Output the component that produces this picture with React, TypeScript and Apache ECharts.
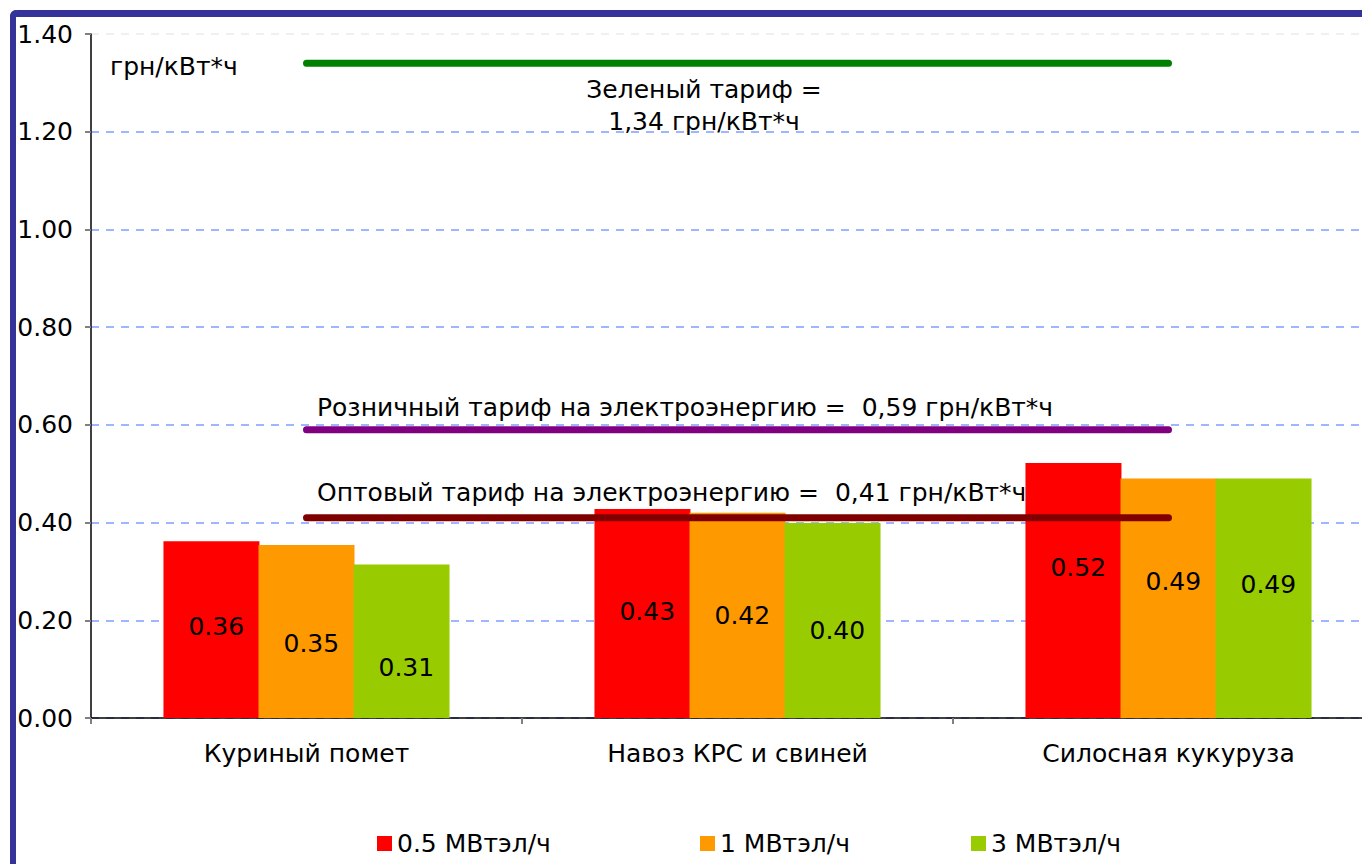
import React, { useEffect, useRef } from "react";
import * as echarts from "echarts";

const categories = ["Куриный помет", "Навоз КРС и свиней", "Силосная кукуруза"];
const seriesNames = ["0.5 МВтэл/ч", "1 МВтэл/ч", "3 МВтэл/ч"];
const values05 = [0.362, 0.428, 0.522];
const values1 = [0.354, 0.42, 0.49];
const values3 = [0.314, 0.399, 0.49];
const greenTariff = 1.34;
const retailTariff = 0.59;
const wholesaleTariff = 0.41;

// label placement (px below bar top), style only
const labelDrop = [
  [85, 103, 105],
  [98, 103, 103],
  [103, 107, 106],
];

const FONT = "'DejaVu Sans', Verdana, sans-serif";
const FS = 25;

export default function App() {
  const ref = useRef<HTMLDivElement>(null);
  useEffect(() => {
    document.body.style.margin = "0";
    document.body.style.overflow = "hidden";
    const chart = echarts.init(ref.current!, null, { renderer: "svg" });
    const barColors = ["#FF0000", "#FF9900", "#99CC00"];
    const barData = [values05, values1, values3];
    const barSeries = barData.map((d, i) => ({
      type: "bar",
      name: seriesNames[i],
      data: d.map((v, j) => ({
        value: v,
        label: { position: ["55%", labelDrop[i][j]] },
      })),
      barWidth: 96,
      barGap: "-1%",
      itemStyle: { color: barColors[i] },
      label: {
        show: true,
        align: "center",
        verticalAlign: "middle",
        color: "#000",
        fontFamily: FONT,
        fontSize: FS,
        formatter: (p: any) => Number(p.value).toFixed(2),
      },
      z: 2,
    }));
    const lineDef = [
      { v: greenTariff, c: "#008000" },
      { v: retailTariff, c: "#800080" },
      { v: wholesaleTariff, c: "#800000" },
    ];
    const lineSeries = lineDef.map((l) => ({
      type: "line",
      data: categories.map(() => l.v),
      symbol: "none",
      silent: true,
      lineStyle: { color: l.c, width: 7, cap: "round" },
      z: 5,
    }));
    const splitColors = [0, 1, 2, 3, 4, 5, 6, 7].map((i) =>
      i === 7 ? "#ececec" : "#7f9eff"
    );
    const textEl = (x: number, y: number, text: string, align = "left") => ({
      type: "text",
      x,
      y,
      z: 10,
      style: {
        text,
        fontFamily: FONT,
        fontSize: FS,
        fill: "#000",
        align,
        verticalAlign: "middle",
      },
    });
    chart.setOption({
      animation: false,
      textStyle: { fontFamily: FONT },
      grid: { left: 91, top: 34, width: 1293, height: 684 },
      xAxis: {
        type: "category",
        data: categories,
        axisLine: { lineStyle: { color: "#000", width: 1.5 } },
        axisTick: { show: true, length: 6, lineStyle: { color: "#808080", width: 2 } },
        axisLabel: { color: "#000", fontSize: FS, fontFamily: FONT, margin: 23 },
      },
      yAxis: {
        type: "value",
        min: 0,
        max: 1.4,
        interval: 0.2,
        axisLine: { show: true, lineStyle: { color: "#000", width: 1.5 } },
        axisTick: { show: true, length: 6, lineStyle: { color: "#808080", width: 2 } },
        axisLabel: {
          color: "#000",
          fontSize: FS,
          fontFamily: FONT,
          margin: 18,
          formatter: (v: number) => v.toFixed(2),
        },
        splitLine: {
          show: true,
          lineStyle: { color: splitColors, type: [8, 7], width: 1.5 },
        },
      },
      legend: seriesNames.map((n, i) => ({
        data: [n],
        left: [372, 695, 966][i],
        top: 826,
        icon: "rect",
        itemWidth: 15,
        itemHeight: 15,
        textStyle: { color: "#000", fontSize: FS, fontFamily: FONT },
        selectedMode: false,
      })),
      graphic: [
        {
          type: "rect",
          shape: { x: 10, y: 10, width: 1400, height: 7, r: [8, 0, 0, 0] },
          style: { fill: "#333399" },
          z: 20,
          silent: true,
        },
        {
          type: "rect",
          shape: { x: 10, y: 10, width: 6, height: 900, r: [8, 0, 0, 0] },
          style: { fill: "#333399" },
          z: 20,
          silent: true,
        },
        textEl(110, 66, "грн/кВт*ч"),
        textEl(704, 89, "Зеленый тариф =", "center"),
        textEl(704, 121, "1,34 грн/кВт*ч", "center"),
        textEl(317, 407, "Розничный тариф на электроэнергию =  0,59 грн/кВт*ч"),
        textEl(317, 492, "Оптовый тариф на электроэнергию =  0,41 грн/кВт*ч"),
      ],
      series: [...barSeries, ...lineSeries],
    });
    return () => chart.dispose();
  }, []);
  return <div ref={ref} style={{ width: 1400, height: 864 }} />;
}
